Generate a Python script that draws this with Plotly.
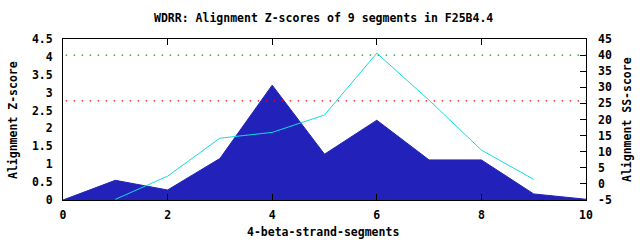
import plotly.graph_objects as go

segments = [0, 1, 2, 3, 4, 5, 6, 7, 8, 9, 10]
z_scores = [0.0, 0.55, 0.28, 1.16, 3.21, 1.28, 2.23, 1.12, 1.12, 0.17, 0.02]
ss_x = [1, 2, 3, 4, 5, 6, 7, 8, 9]
ss_scores = [-4.8, 2.4, 14.2, 16.0, 21.4, 40.6, 26.0, 10.5, 1.4]
green_level_ss = 40.0
red_level_z = 2.77
x_ticks = [0, 2, 4, 6, 8, 10]
y_ticks = [0, 0.5, 1, 1.5, 2, 2.5, 3, 3.5, 4, 4.5]
y_tick_text = ["0", "0.5", "1", "1.5", "2", "2.5", "3", "3.5", "4", "4.5"]
y2_ticks = [-5, 0, 5, 10, 15, 20, 25, 30, 35, 40, 45]

FONT = "DejaVu Sans Mono"
SIZE = 11.5
fnt = dict(family=FONT, size=SIZE, color="black")

L, R, T, B = 63, 54, 39, 40
W, H = 640, 240

fig = go.Figure()
fig.add_trace(go.Scatter(
    x=segments, y=z_scores, mode="lines", fill="tozeroy",
    line=dict(color="#2222bb", width=1), fillcolor="#2222bb",
    showlegend=False, hoverinfo="skip"))
fig.add_trace(go.Scatter(
    x=ss_x, y=ss_scores, mode="lines", yaxis="y2",
    line=dict(color="#11dddd", width=1),
    showlegend=False, hoverinfo="skip"))

def px_x(p):
    return (p - L) / (W - L - R)

def px_y(p):
    return (H - B - p) / (H - T - B)

fig.update_layout(
    width=W, height=H,
    margin=dict(l=L, r=R, t=T, b=B, autoexpand=False),
    paper_bgcolor="white", plot_bgcolor="white",
    font=fnt,
    xaxis=dict(range=[0, 10], tickvals=x_ticks, ticktext=[f"<b>{v}</b>" for v in x_ticks],
               showgrid=False, zeroline=False, showline=True, linecolor="black",
               linewidth=1, mirror="ticks", ticks="inside", ticklen=6, tickcolor="black",
               automargin=False, ticklabelstandoff=4, tickfont=fnt),
    yaxis=dict(range=[0, 4.5], tickvals=y_ticks, ticktext=[f"<b>{t}</b>" for t in y_tick_text],
               showgrid=False, zeroline=False, showline=True, linecolor="black",
               linewidth=1, mirror=True, ticks="", ticklen=0,
               automargin=False, ticklabelstandoff=7, tickfont=fnt),
    yaxis2=dict(range=[-5, 45], tickvals=y2_ticks, ticktext=[f"<b>{v}</b>" for v in y2_ticks],
                overlaying="y", side="right", showgrid=False, zeroline=False,
                showline=False, ticks="inside", ticklen=6, tickcolor="black",
                automargin=False, ticklabelstandoff=11, tickfont=fnt),
    shapes=[
        dict(type="line", xref="x", yref="y2", x0=0.05, x1=10, y0=green_level_ss, y1=green_level_ss,
             line=dict(color="#00b000", width=1.3, dash="1.5px,6.5px")),
        dict(type="line", xref="x", yref="y", x0=0.05, x1=10, y0=red_level_z, y1=red_level_z,
             line=dict(color="#ff0000", width=1.3, dash="1.5px,6.5px")),
    ],
    annotations=[
        dict(text="<b>WDRR: Alignment Z-scores of 9 segments in F25B4.4</b>",
             xref="paper", yref="paper", x=px_x(323), y=px_y(18),
             xanchor="center", yanchor="middle", showarrow=False, font=fnt),
        dict(text="<b>4-beta-strand-segments</b>",
             xref="paper", yref="paper", x=px_x(323), y=px_y(232),
             xanchor="center", yanchor="middle", showarrow=False, font=fnt),
        dict(text="<b>Alignment Z-score</b>", textangle=-90,
             xref="paper", yref="paper", x=px_x(13), y=px_y(120),
             xanchor="center", yanchor="middle", showarrow=False, font=fnt),
        dict(text="<b>Alignment SS-score</b>", textangle=-90,
             xref="paper", yref="paper", x=px_x(627), y=px_y(120),
             xanchor="center", yanchor="middle", showarrow=False, font=fnt),
    ],
)

fig.write_html("out.html")
